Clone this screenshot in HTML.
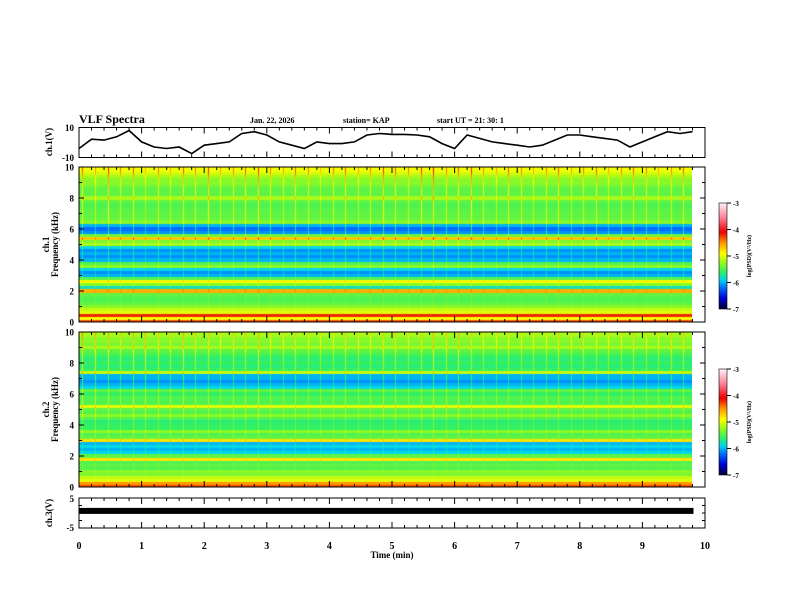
<!DOCTYPE html>
<html><head><meta charset="utf-8">
<style>
body{margin:0;background:#fff;}
#wrap{position:relative;width:792px;height:612px;overflow:hidden;background:#fff;font-family:"Liberation Serif",serif;}
canvas{position:absolute;}
svg{position:absolute;left:0;top:0;}
</style></head>
<body>
<div id="wrap">
<canvas id="spec1" width="613" height="155" style="left:79px;top:167px"></canvas>
<canvas id="spec2" width="613" height="155" style="left:79px;top:332px"></canvas>
<canvas id="cb1" width="8" height="106" style="left:719px;top:203px"></canvas>
<canvas id="cb2" width="8" height="106" style="left:719px;top:369px"></canvas>
<svg id="svg" width="792" height="612"></svg>
</div>
<script>
// ---- data ----
const freqBins = [0,0.2,0.4,0.6,0.8,1.0,1.2,1.4,1.6,1.8,2.0,2.2,2.4,2.6,2.8,3.0,3.2,3.4,3.6,3.8,4.0,4.2,4.4,4.6,4.8,5.0,5.2,5.4,5.6,5.8,6.0,6.2,6.4,6.6,6.8,7.0,7.2,7.4,7.6,7.8,8.0,8.2,8.4,8.6,8.8,9.0,9.2,9.4,9.6,9.8,10];
const ch1Profile = [-4.3,-4.9,-4.2,-5.0,-5.1,-5.3,-5.45,-5.5,-5.5,-5.45,-4.6,-5.8,-5.3,-4.9,-5.5,-6.0,-6.1,-5.9,-5.3,-5.5,-6.0,-6.1,-6.0,-6.1,-5.9,-5.2,-5.35,-4.7,-5.4,-6.1,-6.2,-6.0,-5.3,-5.4,-5.45,-5.45,-5.45,-5.5,-5.5,-5.45,-5.2,-5.45,-5.45,-5.45,-5.35,-5.3,-5.3,-5.2,-5.05,-4.95,-4.95];
const ch2Profile = [-4.3,-4.5,-5.0,-5.1,-5.35,-5.3,-5.5,-5.45,-5.5,-4.8,-5.45,-5.9,-6.0,-5.9,-6.0,-4.8,-5.45,-5.5,-5.3,-5.6,-5.6,-5.65,-5.5,-5.3,-5.5,-5.45,-5.0,-5.5,-5.5,-5.5,-5.6,-5.45,-5.9,-6.0,-6.1,-6.0,-6.0,-5.1,-5.6,-5.65,-5.6,-5.65,-5.6,-5.5,-5.45,-5.2,-5.35,-5.3,-5.3,-5.2,-5.2];
const timeCols = [0,0.2,0.4,0.6,0.8,1.0,1.2,1.4,1.6,1.8,2.0,2.2,2.4,2.6,2.8,3.0,3.2,3.4,3.6,3.8,4.0,4.2,4.4,4.6,4.8,5.0,5.2,5.4,5.6,5.8,6.0,6.2,6.4,6.6,6.8,7.0,7.2,7.4,7.6,7.8,8.0,8.2,8.4,8.6,8.8,9.0,9.2,9.4,9.6,9.8];
const ch1Sferics = [0.6,0.4,0.7,0.5,0.6,0.3,0.5,0.4,0.6,0.5,0.7,0.4,0.5,0.6,0.7,0.5,0.4,0.6,0.5,0.3,0.5,0.6,0.4,0.5,0.7,0.6,0.5,0.7,0.8,0.5,0.6,0.7,0.5,0.4,0.6,0.5,0.4,0.5,0.6,0.4,0.5,0.6,0.4,0.5,0.6,0.5,0.4,0.5,0.6,0.5];
const ch2Sferics = [0.7,0.6,0.6,0.5,0.6,0.6,0.5,0.5,0.6,0.5,0.5,0.4,0.5,0.5,0.6,0.4,0.4,0.5,0.4,0.4,0.4,0.5,0.4,0.4,0.5,0.5,0.4,0.5,0.6,0.5,0.6,0.5,0.4,0.4,0.4,0.4,0.4,0.4,0.5,0.4,0.5,0.4,0.4,0.4,0.5,0.4,0.4,0.5,0.5,0.4];
const ch1Volts = [-4,2.2,1.6,3.8,8,0.4,-3,-4,-3,-7.4,-1.8,-0.7,0.4,6,7.2,5,0.4,-1.8,-4,0.4,-0.7,-0.7,0.4,5,6,5.4,5.4,5,3.8,-0.7,-4,5,2.7,0.4,-0.7,-1.8,-3,-1.8,1.6,5,5,3.8,2.7,1.6,-3,0.4,3.8,7.2,6,7.2];
const ch3Volts = [0.7,0.7,0.7,0.7,0.7,0.7,0.7,0.7,0.7,0.7,0.7,0.7,0.7,0.7,0.7,0.7,0.7,0.7,0.7,0.7,0.7,0.7,0.7,0.7,0.7,0.7,0.7,0.7,0.7,0.7,0.7,0.7,0.7,0.7,0.7,0.7,0.7,0.7,0.7,0.7,0.7,0.7,0.7,0.7,0.7,0.7,0.7,0.7,0.7,0.7];
const xTicks = ['0','1','2','3','4','5','6','7','8','9','10'];
const fTicks = ['0','2','4','6','8','10'];
const cbTicks = ['-3','-4','-5','-6','-7'];

// ---- scales ----
const X0=79,X1=705;
const xs = t => X0 + t/10*(X1-X0);
const P1={top:127.5,bot:157.5,min:-10,max:10};
const S1={top:167,bot:322};
const S2={top:332,bot:487};
const P3={top:498,bot:528,min:-5,max:5};
const yv=(p,v)=>p.bot-(v-p.min)/(p.max-p.min)*(p.bot-p.top);
const yf=(s,f)=>s.bot-f/10*(s.bot-s.top);

const stops=[[-7,[0,0,50]],[-6.6,[0,0,210]],[-6.2,[0,110,255]],[-5.9,[0,215,235]],[-5.6,[50,240,100]],[-5.25,[150,250,30]],[-4.9,[255,255,0]],[-4.5,[255,150,0]],[-4.1,[235,0,0]],[-3.6,[250,120,140]],[-3,[255,245,250]]];
function cmap(v){
  if(v<=stops[0][0])return stops[0][1];
  for(let i=1;i<stops.length;i++){if(v<=stops[i][0]){const a=stops[i-1],b=stops[i];const r=(v-a[0])/(b[0]-a[0]);return a[1].map((c,k)=>Math.round(c+(b[1][k]-c)*r));}}
  return stops[stops.length-1][1];
}
function drawSpec(id,s,profile,sferics){
  const c=document.getElementById(id),ctx=c.getContext('2d');
  const W=c.width,H=c.height;const img=ctx.createImageData(W,H);
  for(let py=0;py<H;py++){
    const f=(s.bot-(s.top+py+0.5))/(s.bot-s.top)*10;
    const fi=Math.max(0,Math.min(freqBins.length-1,Math.round(f/0.2)));
    for(let px=0;px<W;px++){
      const t=(px+0.5)/(X1-X0)*10;
      const ti=Math.max(0,Math.min(timeCols.length-1,Math.floor(t/0.2)));
      const within=px-(xs(timeCols[ti])-X0);
      const streak=(within>=3&&within<4)?sferics[ti]*1.1*(f/10):0;
      const v=profile[fi]+streak;
      const col=cmap(v);const o=(py*W+px)*4;
      img.data[o]=col[0];img.data[o+1]=col[1];img.data[o+2]=col[2];img.data[o+3]=255;
    }
  }
  ctx.putImageData(img,0,0);
}
drawSpec('spec1',S1,ch1Profile,ch1Sferics);
drawSpec('spec2',S2,ch2Profile,ch2Sferics);
function drawCb(id){
  const c=document.getElementById(id),ctx=c.getContext('2d');
  for(let py=0;py<c.height;py++){const v=-3-(py+0.5)/c.height*4;const col=cmap(v);ctx.fillStyle='rgb('+col.join(',')+')';ctx.fillRect(0,py,c.width,1);}
}
drawCb('cb1');drawCb('cb2');

// ---- svg ----
const svg=document.getElementById('svg');const NS='http://www.w3.org/2000/svg';
function el(tag,attrs,parent){const e=document.createElementNS(NS,tag);for(const k in attrs)e.setAttribute(k,attrs[k]);(parent||svg).appendChild(e);return e;}
function txt(x,y,s,size,anchor,rot,name){
  const t=el('text',{x:x,y:y,'font-size':size,'font-weight':'bold','text-anchor':anchor||'start','font-family':'Liberation Serif, serif'});
  if(rot)t.setAttribute('transform','rotate('+rot+' '+x+' '+y+')');
  t.textContent=s;
  
  
  return t;
}
function frame(top,bot,name){
  const r=el('rect',{x:X0,y:top,width:X1-X0,height:bot-top,fill:'none',stroke:'#000','stroke-width':1});
  
  
  for(let t=0;t<=10.001;t+=0.2){
    const maj=Math.abs(t-Math.round(t))<0.01;const L=maj?6:3;const x=xs(t);
    el('line',{x1:x,y1:top,x2:x,y2:top+L,stroke:'#000','stroke-width':1});
    el('line',{x1:x,y1:bot,x2:x,y2:bot-L,stroke:'#000','stroke-width':1});
  }
}
// header
txt(79,123,'VLF Spectra',12,'start',0,'figure-title');
txt(250,123,'Jan. 22, 2026',8,'start',0,'date-label');
txt(343,123,'station= KAP',8,'start',0,'station-label');
txt(437,123,'start  UT =   21: 30: 1',8,'start',0,'start-time-label');

// panel 1 voltage
frame(P1.top,P1.bot,'ch1-voltage-frame');
let d='';timeCols.forEach((t,i)=>{d+=(i?'L':'M')+xs(t).toFixed(1)+','+yv(P1,ch1Volts[i]).toFixed(1);});
const l1=el('path',{d:d,fill:'none',stroke:'#000','stroke-width':1.6});


txt(74,131,'10',9,'end',0,'ch1-ytick-10');
txt(74,161,'-10',9,'end',0,'ch1-ytick-neg10');
txt(52,142,'ch.1(V)',9,'middle',-90,'ch1-voltage-ylabel');

// spectro frames
[[S1,'ch1'],[S2,'ch2']].forEach(([s,n])=>{
  frame(s.top,s.bot,n+'-spectrogram-frame');
  fTicks.forEach(ft=>{const y=yf(s,+ft);txt(74,y+3.5,ft,9,'end',0,n+'-freq-tick-'+ft);
    el('line',{x1:X0,y1:y,x2:X0+5,y2:y,stroke:'#000'});el('line',{x1:X1,y1:y,x2:X1-5,y2:y,stroke:'#000'});
    if(+ft<10){const y2=yf(s,+ft+1);el('line',{x1:X0,y1:y2,x2:X0+3,y2:y2,stroke:'#000'});el('line',{x1:X1,y1:y2,x2:X1-3,y2:y2,stroke:'#000'});}
  });
  const cy=(s.top+s.bot)/2;
  txt(49,cy,n.replace('ch','ch.'),9,'middle',-90,n+'-ylabel');
  txt(58,cy,'Frequency (kHz)',9,'middle',-90,n+'-freq-ylabel');
});
// colorbars
[[203,'cb1'],[369,'cb2']].forEach(([top,n])=>{
  const r=el('rect',{x:719,y:top,width:8,height:106,fill:'none',stroke:'#000','stroke-width':0.6});
  
  
  cbTicks.forEach((v,i)=>{const y=top+i*106/4;el('line',{x1:727,y1:y,x2:731,y2:y,stroke:'#000'});txt(733,y+3,v,7,'start',0,n+'-tick-'+v);});
  txt(751,top+53,'log(PSD)(V\u00b2/Hz)',6,'middle',-90,n+'-label');
});
// panel 3
frame(P3.top,P3.bot,'ch3-voltage-frame');
const band=el('rect',{x:xs(0),y:yv(P3,ch3Volts[0]+1),width:xs(timeCols[timeCols.length-1])-xs(0)+1,height:yv(P3,ch3Volts[0]-1)-yv(P3,ch3Volts[0]+1),fill:'#000'});


txt(74,502,'5',9,'end',0,'ch3-ytick-5');
txt(74,531,'-5',9,'end',0,'ch3-ytick-neg5');
txt(52,513,'ch.3(V)',9,'middle',-90,'ch3-voltage-ylabel');
[-2.5,0,2.5].forEach(v=>{const y=yv(P3,v);el('line',{x1:X0,y1:y,x2:X0+3,y2:y,stroke:'#000'});el('line',{x1:X1,y1:y,x2:X1-3,y2:y,stroke:'#000'});});
xTicks.forEach(t=>txt(xs(+t),549,t,10,'middle',0,'x-tick-'+t));
txt(392,558,'Time  (min)',9,'middle',0,'x-axis-title');
</script>
</body></html>
